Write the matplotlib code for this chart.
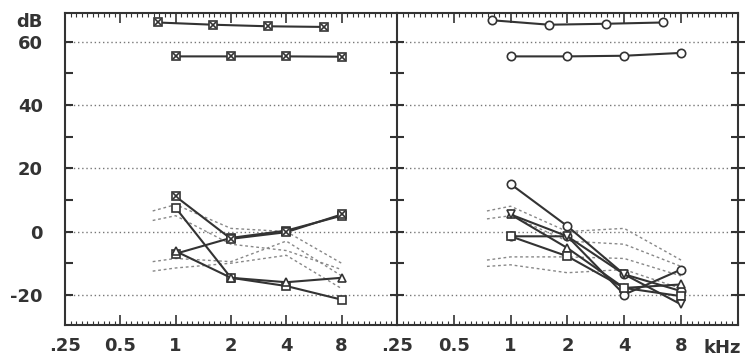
import numpy as np
import matplotlib.pyplot as plt
from matplotlib.ticker import FixedLocator, NullFormatter, FixedFormatter

plt.rcParams["axes.unicode_minus"] = False

# audiogram frequencies (kHz)
freqs = [1, 2, 4, 8]
freqs_early = [0.8, 1.6, 3.2, 6.4]
norm_freqs = [0.75, 1, 2, 4, 8]
tick_freqs = [0.25, 0.5, 1, 2, 4, 8]
tick_labels = [".25", "0.5", "1", "2", "4", "8"]
db_ticks = [-20, 0, 20, 40, 60]
db_minor = [-10, 10, 30, 50]

# left panel: thresholds (dB)
left_top_a = [66.0, 65.3, 64.8, 64.6]
left_top_b = [55.3, 55.3, 55.3, 55.2]
left_s1 = [11.1, -2.3, -0.2, 5.4]
left_s2 = [7.5, -14.6, -17.2, -21.5]
left_s3 = [-7.0, -2.0, 0.3, 5.0]
left_s4 = [-6.2, -14.6, -16.0, -14.6]
left_norm = [
    [6.5, 8.5, 1.0, 0.0, -10.0],
    [3.5, 5.0, -4.0, -6.0, -12.0],
    [-9.5, -8.5, -9.5, -3.0, -14.0],
    [-12.5, -11.5, -10.0, -7.5, -18.0],
]

# right panel: thresholds (dB)
right_top_a = [66.7, 65.3, 65.6, 66.0]
right_top_b = [55.3, 55.3, 55.5, 56.4]
right_s1 = [15.0, 1.7, -13.5, -18.8]
right_s2 = [5.4, -5.2, -17.8, -16.7]
right_s3 = [-1.5, -1.5, -19.9, -12.0]
right_s4 = [-1.5, -7.8, -17.8, -20.4]
right_s5 = [5.4, -1.5, -13.5, -23.0]
right_norm = [
    [6.5, 8.0, 0.0, 1.0, -9.0],
    [4.0, 5.0, -3.0, -4.0, -11.0],
    [-9.0, -8.0, -8.0, -8.5, -14.0],
    [-11.0, -10.5, -13.0, -12.0, -18.0],
]

ink = "#333333"
fig = plt.figure(figsize=(7.56, 3.58), dpi=100)
ax_l = fig.add_axes([0.086, 0.0922, 0.439, 0.8715])
ax_r = fig.add_axes([0.525, 0.0922, 0.451, 0.8715])

minor_x = 0.25 * 2 ** (np.arange(0, 61) / 10)


def setup(ax):
    ax.set_xscale("log", base=2)
    ax.set_xlim(0.25, 16)
    ax.set_ylim(-29.5, 69)
    ax.xaxis.set_major_locator(FixedLocator(tick_freqs))
    ax.xaxis.set_major_formatter(FixedFormatter(tick_labels))
    ax.xaxis.set_minor_locator(FixedLocator(minor_x))
    ax.xaxis.set_minor_formatter(NullFormatter())
    ax.yaxis.set_major_locator(FixedLocator(db_ticks))
    ax.yaxis.set_minor_locator(FixedLocator(db_minor))
    ax.tick_params(axis="x", which="both", direction="in", top=True,
                   color=ink, pad=9)
    ax.tick_params(axis="x", which="major", length=7, width=1.2,
                   labelsize=13, labelcolor=ink)
    ax.tick_params(axis="x", which="minor", length=3, width=0.8)
    ax.tick_params(axis="y", which="both", direction="in", length=6,
                   width=1.5, color=ink, labelsize=13, labelcolor=ink)
    for lab in ax.get_xticklabels() + ax.get_yticklabels():
        lab.set_fontweight("bold")
    for sp in ax.spines.values():
        sp.set_color(ink)
        sp.set_linewidth(1.5)
    ax.yaxis.grid(True, which="major", linestyle=(0, (1, 2)),
                  color="#777777", linewidth=1)
    ax.set_axisbelow(True)


setup(ax_l)
setup(ax_r)

# left panel
ax_l.spines["right"].set_visible(False)
ax_l.tick_params(axis="y", pad=16)
ax_l.annotate("dB", xy=(0, 66), xycoords=("axes fraction", "data"),
              xytext=(-22, 0), textcoords="offset pixels", ha="right",
              va="center", fontsize=13, fontweight="bold", color=ink)

for row in left_norm:
    ax_l.plot(norm_freqs, row, linestyle=(0, (2, 2)), color="#888888", lw=1)

line_kw = dict(color=ink, lw=1.5, markersize=6, mfc="white", mew=1.2)


def boxx(ax, x, y):
    ax.plot(x, y, marker="s", **line_kw)
    ax.plot(x, y, marker="x", linestyle="none", color=ink, markersize=5,
            mew=1.2)


boxx(ax_l, freqs_early, left_top_a)
boxx(ax_l, freqs, left_top_b)
ax_l.plot(freqs, left_s3, marker="s", **line_kw)
ax_l.plot(freqs, left_s2, marker="s", **line_kw)
ax_l.plot(freqs, left_s4, marker="^", **line_kw)
boxx(ax_l, freqs, left_s1)

# right panel
ax_r.set_yticklabels([])
ax_r.tick_params(axis="y", which="both", right=True)
ax_r.tick_params(axis="y", which="both", left=True, direction="inout",
                 length=10)
ax_r.annotate("kHz", xy=(13.2, 0), xycoords=("data", "axes fraction"),
              xytext=(0, -23), textcoords="offset pixels", ha="center",
              va="center", fontsize=13, fontweight="bold", color=ink)

for row in right_norm:
    ax_r.plot(norm_freqs, row, linestyle=(0, (2, 2)), color="#888888", lw=1)

ax_r.plot(freqs_early, right_top_a, marker="o", **line_kw)
ax_r.plot(freqs, right_top_b, marker="o", **line_kw)
ax_r.plot(freqs, right_s1, marker="o", **line_kw)
ax_r.plot(freqs, right_s2, marker="^", **line_kw)
ax_r.plot(freqs, right_s3, marker="o", **line_kw)
ax_r.plot(freqs, right_s4, marker="s", **line_kw)
ax_r.plot(freqs, right_s5, marker="v", **line_kw)

fig.savefig("out.png", dpi=100)
